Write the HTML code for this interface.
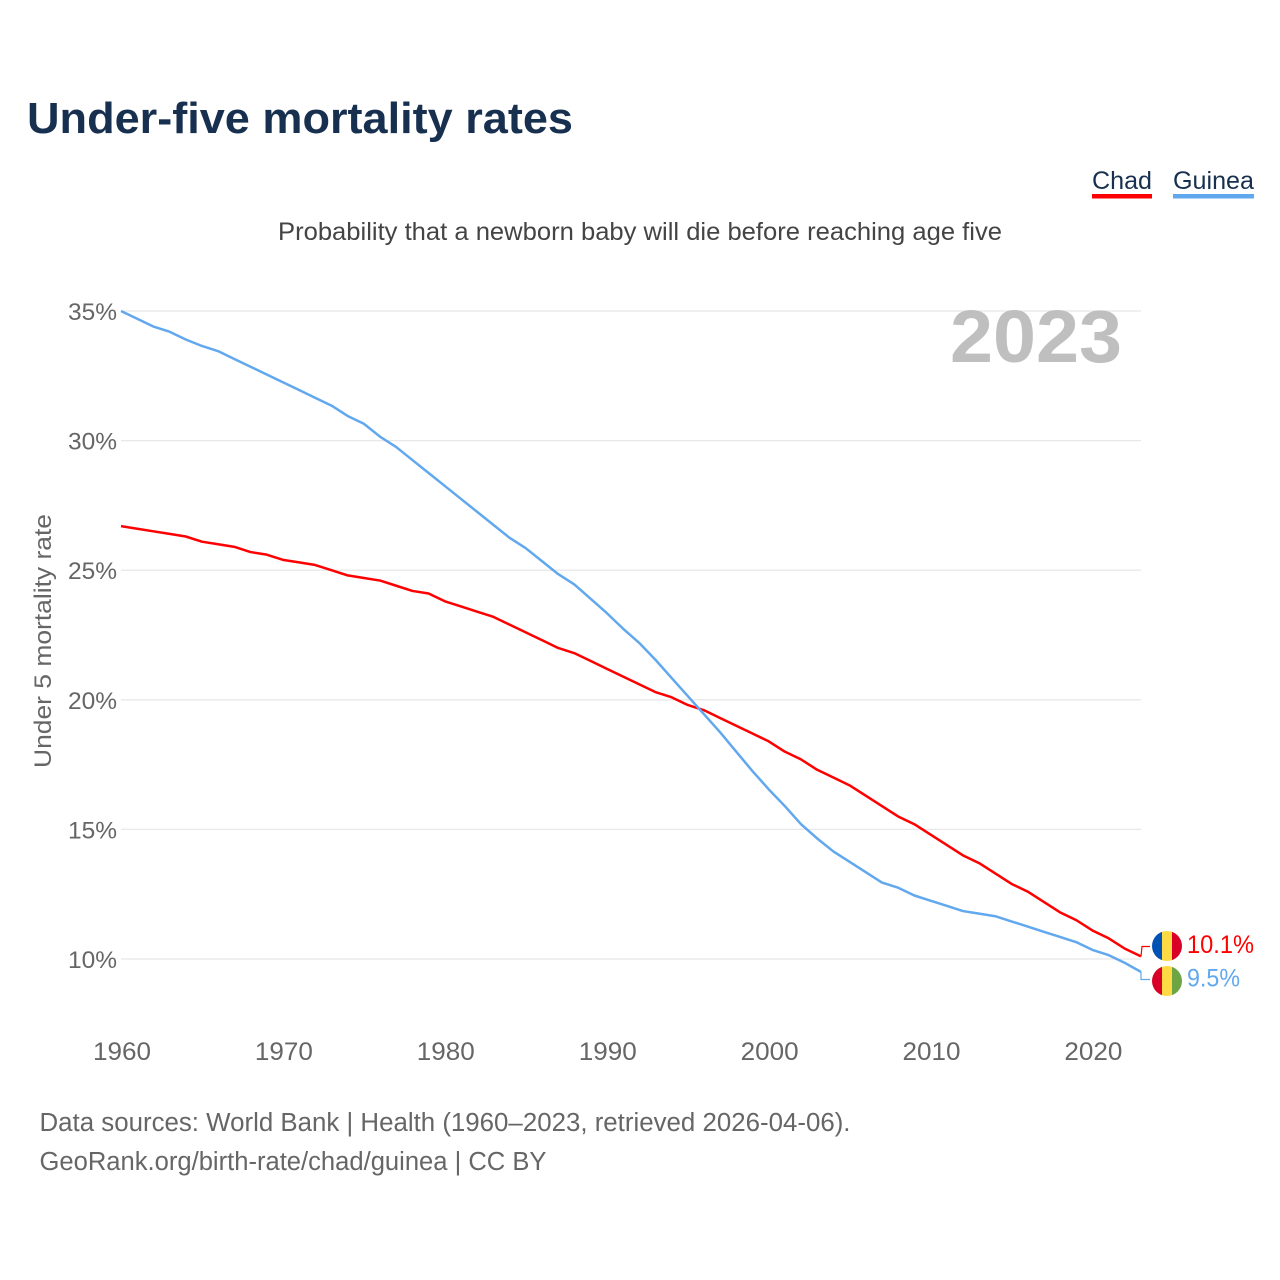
<!DOCTYPE html>
<html>
<head>
<meta charset="utf-8">
<title>Under-five mortality rates</title>
<style>
html,body{margin:0;padding:0;background:#fff;}
svg{display:block;font-family:"Liberation Sans",sans-serif;}
</style>
</head>
<body>
<svg id="chart" width="1280" height="1280" viewBox="0 0 1280 1280" xmlns="http://www.w3.org/2000/svg">
  <defs>
    <clipPath id="clip-chad"><circle id="clip-chad-circle" cx="1167" cy="946" r="15"></circle></clipPath>
    <clipPath id="clip-guinea"><circle id="clip-guinea-circle" cx="1167" cy="981" r="15"></circle></clipPath>
  </defs>
  <rect width="1280" height="1280" fill="#fff"></rect>
  <text x="27" y="133" font-size="44" font-weight="700" fill="#18304f" textLength="546" lengthAdjust="spacingAndGlyphs">Under-five mortality rates</text>
  <text x="278" y="240" font-size="25" fill="#444" textLength="724" lengthAdjust="spacingAndGlyphs">Probability that a newborn baby will die before reaching age five</text>

  <g>
    <g>
      <text x="1092" y="189" font-size="25" fill="#18304f" textLength="60" lengthAdjust="spacingAndGlyphs">Chad</text>
      <rect x="1092" y="194" width="60" height="4.5" fill="#ff0000"></rect>
    </g>
    <g>
      <text x="1173" y="189" font-size="25" fill="#18304f" textLength="81" lengthAdjust="spacingAndGlyphs">Guinea</text>
      <rect x="1173" y="194" width="81" height="4.5" fill="#62a8ee"></rect>
    </g>
  </g>

  <g id="grid"></g>
  <g id="y-axis"></g>
  <g id="x-axis"></g>

  <text x="950" y="362" font-size="74" font-weight="700" fill="#bfbfbf" textLength="172" lengthAdjust="spacingAndGlyphs">2023</text>

  <text transform="translate(51,768) rotate(-90)" x="0" y="0" font-size="24.5" fill="#666" textLength="254" lengthAdjust="spacingAndGlyphs">Under 5 mortality rate</text>

  <path id="line-chad" fill="none" stroke="#ff0000" stroke-width="2.5" stroke-linejoin="round"></path>
  <path id="line-guinea" fill="none" stroke="#62a8ee" stroke-width="2.5" stroke-linejoin="round"></path>

  <path id="connector-chad" fill="none" stroke="#ff0000" stroke-width="1.2"></path>
  <path id="connector-guinea" fill="none" stroke="#62a8ee" stroke-width="1.2"></path>

  <g clip-path="url(#clip-chad)">
    <rect x="1152" y="931" width="10" height="30" fill="#0052b4"></rect>
    <rect x="1162" y="931" width="10" height="30" fill="#ffda44"></rect>
    <rect x="1172" y="931" width="10" height="30" fill="#d80027"></rect>
  </g>
  <g clip-path="url(#clip-guinea)">
    <rect x="1152" y="966" width="10" height="30" fill="#d80027"></rect>
    <rect x="1162" y="966" width="10" height="30" fill="#ffda44"></rect>
    <rect x="1172" y="966" width="10" height="30" fill="#6da544"></rect>
  </g>
  <text id="label-chad" x="1187" y="953" font-size="25" fill="#ff0000" textLength="67" lengthAdjust="spacingAndGlyphs"></text>
  <text id="label-guinea" x="1187" y="986.5" font-size="25" fill="#62a8ee" textLength="53" lengthAdjust="spacingAndGlyphs"></text>

  <text x="39.5" y="1131" font-size="25.5" fill="#666" textLength="811" lengthAdjust="spacingAndGlyphs">Data sources: World Bank | Health (1960–2023, retrieved 2026-04-06).</text>
  <text x="39.5" y="1170" font-size="25.5" fill="#666" textLength="507" lengthAdjust="spacingAndGlyphs">GeoRank.org/birth-rate/chad/guinea | CC BY</text>
</svg>
<script>
const startYear = 1960;
const chadValues = [26.7,26.6,26.5,26.4,26.3,26.1,26.0,25.9,25.7,25.6,25.4,25.3,25.2,25.0,24.8,24.7,24.6,24.4,24.2,24.1,23.8,23.6,23.4,23.2,22.9,22.6,22.3,22.0,21.8,21.5,21.2,20.9,20.6,20.3,20.1,19.8,19.6,19.3,19.0,18.7,18.4,18.0,17.7,17.3,17.0,16.7,16.3,15.9,15.5,15.2,14.8,14.4,14.0,13.7,13.3,12.9,12.6,12.2,11.8,11.5,11.1,10.8,10.4,10.1];
const guineaValues = [35.0,34.7,34.4,34.2,33.9,33.65,33.45,33.15,32.85,32.55,32.25,31.95,31.65,31.35,30.95,30.65,30.15,29.75,29.25,28.75,28.25,27.75,27.25,26.75,26.25,25.85,25.35,24.85,24.45,23.9,23.35,22.75,22.2,21.55,20.85,20.15,19.45,18.75,18.0,17.25,16.55,15.9,15.2,14.65,14.15,13.75,13.35,12.95,12.75,12.45,12.25,12.05,11.85,11.75,11.65,11.45,11.25,11.05,10.85,10.65,10.35,10.15,9.85,9.5];
const yTicks = [10,15,20,25,30,35];
const xTicks = [1960,1970,1980,1990,2000,2010,2020];

const SVG_NS = 'http://www.w3.org/2000/svg';
const xScale = function (year) { return 121 + (year - 1960) * (1141 - 121) / 63; };
const yScale = function (value) { return 959 - (value - 10) * (959 - 311) / 25; };

const gridGroup = document.getElementById('grid');
const yAxisGroup = document.getElementById('y-axis');
const xAxisGroup = document.getElementById('x-axis');

yTicks.forEach(function (tick) {
  const line = document.createElementNS(SVG_NS, 'line');
  
  
  line.setAttribute('x1', 121);
  line.setAttribute('x2', 1141);
  line.setAttribute('y1', yScale(tick));
  line.setAttribute('y2', yScale(tick));
  line.setAttribute('stroke', '#e8e8e8');
  line.setAttribute('stroke-width', '1.3');
  gridGroup.appendChild(line);

  const label = document.createElementNS(SVG_NS, 'text');
  
  
  label.setAttribute('x', 117);
  label.setAttribute('y', yScale(tick) + 9);
  label.setAttribute('text-anchor', 'end');
  label.setAttribute('font-size', '24.5');
  label.setAttribute('fill', '#666');
  label.textContent = tick + '%';
  yAxisGroup.appendChild(label);
});

xTicks.forEach(function (tick) {
  const label = document.createElementNS(SVG_NS, 'text');
  
  
  label.setAttribute('x', xScale(tick) - 28);
  label.setAttribute('y', 1060);
  label.setAttribute('font-size', '25');
  label.setAttribute('fill', '#666');
  label.setAttribute('textLength', '58');
  label.setAttribute('lengthAdjust', 'spacingAndGlyphs');
  label.textContent = tick;
  xAxisGroup.appendChild(label);
});

const linePath = function (values) {
  return values.map(function (v, i) {
    return (i === 0 ? 'M' : 'L') + xScale(startYear + i).toFixed(2) + ' ' + yScale(v).toFixed(2);
  }).join(' ');
};
document.getElementById('line-chad').setAttribute('d', linePath(chadValues));
document.getElementById('line-guinea').setAttribute('d', linePath(guineaValues));

const lastYear = startYear + chadValues.length - 1;
const chadEndY = yScale(chadValues[chadValues.length - 1]);
const guineaEndY = yScale(guineaValues[guineaValues.length - 1]);
document.getElementById('connector-chad').setAttribute('d',
  'M' + xScale(lastYear) + ' ' + chadEndY + ' L' + (xScale(lastYear) + 1) + ' 946.5 L1150 946.5');
document.getElementById('connector-guinea').setAttribute('d',
  'M' + xScale(lastYear) + ' ' + guineaEndY + ' L' + xScale(lastYear) + ' 979.5 L1150 979.5');

document.getElementById('label-chad').textContent = chadValues[chadValues.length - 1].toFixed(1) + '%';
document.getElementById('label-guinea').textContent = guineaValues[guineaValues.length - 1].toFixed(1) + '%';
</script>
</body>
</html>
